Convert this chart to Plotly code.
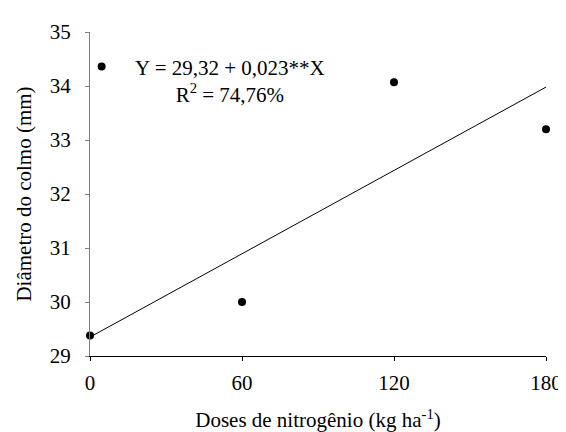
import plotly.graph_objects as go

doses = [0, 60, 120, 180]
diametro = [29.38, 30.0, 34.07, 33.2]
fit_x = [0, 180]
fit_y = [29.35, 33.98]
x_ticks = [0, 60, 120, 180]
y_ticks = [29, 30, 31, 32, 33, 34, 35]
eq_text = "Y = 29,32 + 0,023**X<br>R<sup>2</sup> = 74,76%"

FONT = "Liberation Serif"

fig = go.Figure()
fig.add_trace(go.Scatter(x=fit_x, y=fit_y, mode="lines",
                         line=dict(color="black", width=1), showlegend=False,
                         cliponaxis=False))
fig.add_trace(go.Scatter(x=doses, y=diametro, mode="markers",
                         marker=dict(color="black", size=8), showlegend=False,
                         cliponaxis=False))
# legend marker
fig.add_trace(go.Scatter(x=[4.6], y=[34.36], mode="markers",
                         marker=dict(color="black", size=8), showlegend=False,
                         cliponaxis=False))

fig.add_annotation(x=55.4, y=34.09, xref="x", yref="y", text=eq_text,
                   showarrow=False, align="center",
                   font=dict(family=FONT, size=21, color="black"))

fig.update_layout(
    width=566, height=432,
    margin=dict(l=82, r=16, t=21, b=75),
    paper_bgcolor="white", plot_bgcolor="white",
    font=dict(family=FONT, size=21, color="black"),
    xaxis=dict(range=[0, 180], tickvals=x_ticks, ticks="outside", ticklen=4,
               tickcolor="black", showline=True, linecolor="black", linewidth=1,
               showgrid=False, zeroline=False, ticklabelstandoff=4,
               title=dict(text="Doses de nitrogênio (kg ha<sup>-1</sup>)",
                          standoff=18, font=dict(size=21))),
    yaxis=dict(range=[29, 35], tickvals=y_ticks, ticks="outside", ticklen=4,
               tickcolor="#808080", showline=True, linecolor="#808080", linewidth=1,
               showgrid=False, zeroline=False, ticklabelstandoff=10,
               title=dict(text="Diâmetro do colmo (mm)", standoff=12,
                          font=dict(size=21))),
)

fig.write_html("out.html")
